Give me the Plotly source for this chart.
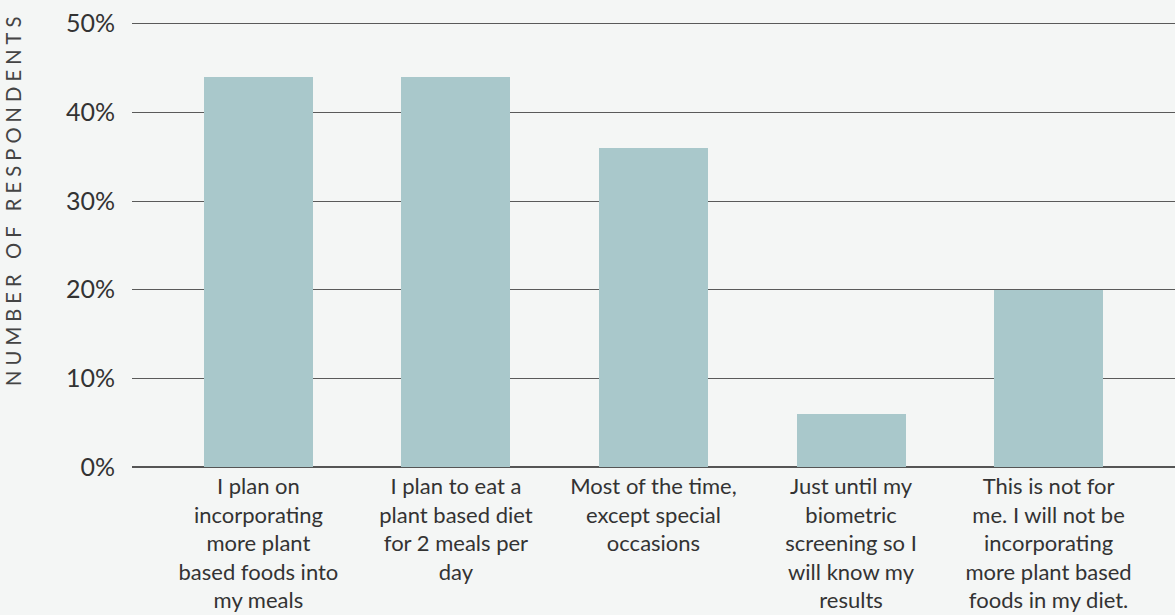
import plotly.graph_objects as go

# Survey answers (each line of a label separated by <br>)
categories = [
    "I plan on<br>incorporating<br>more plant<br>based foods into<br>my meals",
    "I plan to eat a<br>plant based diet<br>for 2 meals per<br>day",
    "Most of the time,<br>except special<br>occasions",
    "Just until my<br>biometric<br>screening so I<br>will know my<br>results",
    "This is not for<br>me. I will not be<br>incorporating<br>more plant based<br>foods in my diet.",
]
percent_respondents = [44, 44, 36, 6, 20]
y_tick_values = [0, 10, 20, 30, 40, 50]
y_tick_labels = ["0%", "10%", "20%", "30%", "40%", "50%"]
y_title = "NUMBER OF RESPONDENTS"

BG = "#F4F6F5"
BAR = "#A9C8CB"
TEXT = "#333333"
FONT = "Lato"

Y_MAX = 50.3          # a little headroom so the 50% grid line is drawn
PLOT_TOP = 24         # pixel row of the 50% line
PLOT_BOTTOM = 466.7   # pixel row of the 0% line
px_per_unit = (PLOT_BOTTOM - PLOT_TOP) / 50
top_margin = PLOT_TOP - (Y_MAX - 50) * px_per_unit

fig = go.Figure(
    go.Bar(
        x=list(range(len(categories))),
        y=percent_respondents,
        width=0.552,
        marker=dict(color=BAR, line=dict(width=0)),
        hoverinfo="skip",
    )
)

# letter-spaced vertical axis title
spaced_title = "\u2005".join(y_title)
plot_h = PLOT_BOTTOM - top_margin

fig.update_layout(
    width=1175,
    height=615,
    margin=dict(l=132, r=0, t=top_margin, b=615 - PLOT_BOTTOM, autoexpand=False),
    paper_bgcolor=BG,
    plot_bgcolor=BG,
    font=dict(family=FONT, color=TEXT, size=22),
    showlegend=False,
    bargap=0,
    annotations=[
        dict(
            text=spaced_title,
            textangle=-90,
            xref="paper",
            yref="paper",
            x=(13 - 132) / 1043,
            y=(PLOT_BOTTOM - 201) / plot_h,
            xanchor="center",
            yanchor="middle",
            showarrow=False,
            font=dict(family=FONT, size=20.2, color="#444444"),
        )
    ],
)

fig.update_xaxes(
    range=[-0.64, 4.64],
    tickmode="array",
    tickvals=list(range(len(categories))),
    ticktext=categories,
    tickangle=0,
    showgrid=False,
    zeroline=False,
    showline=False,
    ticks="",
    ticklabelstandoff=4,
    tickfont=dict(family=FONT, size=22, color=TEXT),
    automargin=False,
    fixedrange=True,
)

fig.update_yaxes(
    range=[0, Y_MAX],
    tickmode="array",
    tickvals=y_tick_values,
    ticktext=y_tick_labels,
    showgrid=True,
    gridcolor="#5a5a5a",
    gridwidth=1.4,
    zeroline=True,
    zerolinecolor="#555555",
    zerolinewidth=1.6,
    showline=False,
    ticks="",
    ticklabelstandoff=16,
    tickfont=dict(family=FONT, size=25, color=TEXT),
    automargin=False,
    fixedrange=True,
)

fig.write_html("out.html", config={"displayModeBar": False})
